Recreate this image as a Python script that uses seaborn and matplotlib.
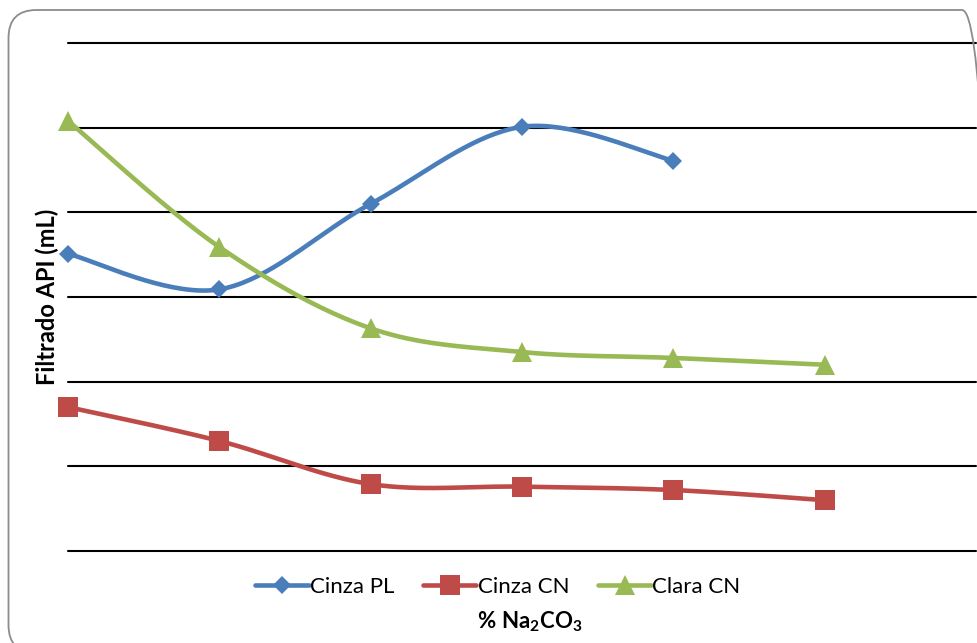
import numpy as np
import pandas as pd
import matplotlib
matplotlib.use("Agg")
import matplotlib.pyplot as plt
from matplotlib.patches import FancyBboxPatch
from matplotlib.lines import Line2D
import seaborn as sns

categories = [0, 1, 2, 3, 4, 5]
cinza_pl = [3.51, 3.09, 4.10, 5.01, 4.61]
cinza_cn = [1.70, 1.30, 0.79, 0.76, 0.72, 0.60]
clara_cn = [5.08, 3.59, 2.63, 2.35, 2.28, 2.20]
series_names = ["Cinza PL", "Cinza CN", "Clara CN"]
colors = ["#4A7EBB", "#BE4B48", "#98B954"]
markers = ["D", "s", "^"]
msizes = [9.5, 14, 15]

sns.set_theme(style="white")
plt.rcParams["font.family"] = ["Lato", "DejaVu Sans"]
plt.rcParams["text.color"] = "black"
plt.rcParams["mathtext.fontset"] = "custom"
plt.rcParams["mathtext.bf"] = "Lato:bold"
plt.rcParams["mathtext.rm"] = "Lato"
plt.rcParams["mathtext.it"] = "Lato:italic"

fig = plt.figure(figsize=(9.77, 6.43), dpi=100)
W, H = 977, 643
ax = fig.add_axes([68 / W, 1 - 551 / H, (976 - 68) / W, (551 - 43) / H])

# rounded chart border (in inches)
border = FancyBboxPatch((0.085, -0.1), 9.90 - 0.085, 6.33 + 0.1,
                        boxstyle="round,pad=0,rounding_size=0.28",
                        transform=fig.dpi_scale_trans, facecolor="none",
                        edgecolor="#8C8C8C", linewidth=1.3, zorder=0)
fig.patches.append(border)


def catmull(xs, ys, n=40):
    xs = np.asarray(xs, float)
    ys = np.asarray(ys, float)
    P = np.column_stack([xs, ys])
    P = np.vstack([P[0], P, P[-1]])
    out = []
    for i in range(1, len(P) - 2):
        p0, p1, p2, p3 = P[i - 1], P[i], P[i + 1], P[i + 2]
        c1 = p1 + (p2 - p0) / 6
        c2 = p2 - (p3 - p1) / 6
        t = np.linspace(0, 1, n)[:, None]
        seg = ((1 - t) ** 3) * p1 + 3 * ((1 - t) ** 2) * t * c1 + 3 * (1 - t) * t ** 2 * c2 + t ** 3 * p2
        out.append(seg if i == 1 else seg[1:])
    out = np.vstack(out)
    return out[:, 0], out[:, 1]


all_series = [cinza_pl, cinza_cn, clara_cn]
for name, vals, c, m, ms in zip(series_names, all_series, colors, markers, msizes):
    x = categories[:len(vals)]
    sx, sy = catmull(x, vals)
    ax.plot(sx, sy, color=c, lw=3.3, solid_capstyle="round", zorder=3, clip_on=False)
    df = pd.DataFrame({"x": x, "y": vals})
    sns.lineplot(data=df, x="x", y="y", ax=ax, color=c, marker=m, markersize=ms,
                 markeredgewidth=0, linestyle="none", zorder=4, legend=False, clip_on=False)

ax.set_xlim(0, 6)
ax.set_ylim(0, 6)
ax.set_xticks([])
ax.set_yticks([])
ax.tick_params(left=False, labelleft=False, bottom=False, labelbottom=False)
for yv in range(0, 7):
    ax.axhline(yv, color="black", lw=1.5, zorder=1, clip_on=False)
for s in ax.spines.values():
    s.set_visible(False)
ax.set_xlabel("")
ax.set_ylabel("")
ax.patch.set_alpha(0)

fig.text(47 / W, 1 - 297 / H, "Filtrado API (mL)", rotation=90, ha="center", va="center",
         fontsize=17, fontweight="bold", color="black")
fig.text(530 / W, 1 - 622 / H, r"$\mathbf{\%\ Na_2CO_3}$", ha="center", va="center",
         fontsize=16, color="black")

handles = [Line2D([0], [0], color=c, lw=3.3, marker=m, markersize=ms, markeredgewidth=0)
           for c, m, ms in zip(colors, markers, msizes)]
leg = fig.legend(handles, series_names, loc="center", bbox_to_anchor=(498 / W, 1 - 587 / H),
                 ncol=3, frameon=False, fontsize=16, handlelength=2.4, handletextpad=0.05,
                 columnspacing=1.3)
for t in leg.get_texts():
    t.set_color("black")

fig.savefig("out.png", dpi=100)
